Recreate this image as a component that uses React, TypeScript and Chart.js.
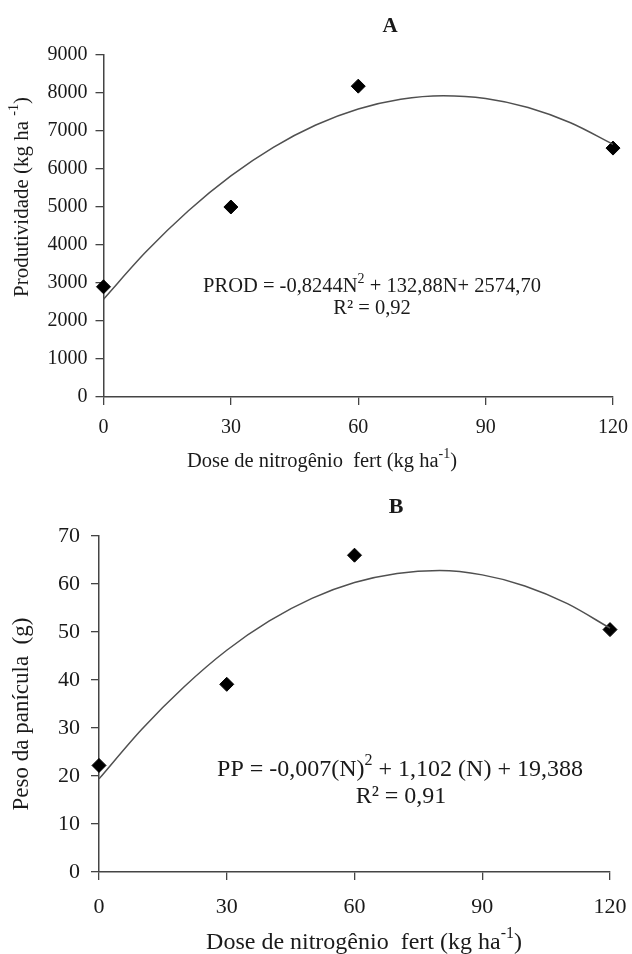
import React, { useEffect, useRef } from 'react';
import { Chart, registerables } from 'chart.js';
Chart.register(...registerables);

const doses = [0, 30, 60, 120];
const prodValues = [2900, 5000, 8180, 6550];
const pesoValues = [22.2, 39.1, 66, 50.5];
const trendDoses = [0, 10, 20, 30, 40, 50, 60, 70, 80, 90, 100, 110, 120];
const prodTrend = [2575, 3821, 4903, 5819, 6571, 7158, 7580, 7837, 7929, 7856, 7619, 7216, 6649];
const pesoTrend = [19.4, 29.7, 38.6, 46.2, 52.3, 57.0, 60.3, 62.2, 62.8, 61.9, 59.6, 55.9, 50.8];
const xTicks = [0, 30, 60, 90, 120];

const FONT = '"Liberation Serif", "Times New Roman", serif';
const INK = '#1a1a1a';
const AXIS = '#444';

type Seg = { t: string; sup?: boolean };
type TextItem = { segs: Seg[]; x: number; y: number; size: number; bold?: boolean; rotate?: boolean };

function drawRich(ctx: CanvasRenderingContext2D, item: TextItem) {
  const { segs, size, bold } = item;
  const w = bold ? 'bold ' : '';
  const supSize = Math.round(size * 0.68);
  let total = 0;
  const widths = segs.map((s) => {
    ctx.font = `${w}${s.sup ? supSize : size}px ${FONT}`;
    const m = ctx.measureText(s.t).width;
    total += m;
    return m;
  });
  ctx.save();
  ctx.translate(item.x, item.y);
  if (item.rotate) ctx.rotate(-Math.PI / 2);
  ctx.fillStyle = INK;
  ctx.textBaseline = 'middle';
  ctx.textAlign = 'left';
  let cx = -total / 2;
  segs.forEach((s, i) => {
    ctx.font = `${w}${s.sup ? supSize : size}px ${FONT}`;
    ctx.fillText(s.t, cx, s.sup ? -size * 0.38 : 0);
    cx += widths[i];
  });
  ctx.restore();
}

const annotPlugin = {
  id: 'annot',
  afterDraw(chart: any, _args: any, opts: any) {
    const ctx = chart.ctx as CanvasRenderingContext2D;
    (opts.items || []).forEach((it: TextItem) => drawRich(ctx, it));
  },
};

type PanelProps = {
  width: number;
  height: number;
  values: number[];
  trend: number[];
  yMax: number;
  yStep: number;
  yAxisWidth: number;
  padTop: number;
  padRight: number;
  xAxisHeight: number;
  tickSize: number;
  xPad: number;
  yPad: number;
  items: TextItem[];
};

function Panel(p: PanelProps) {
  const ref = useRef<HTMLCanvasElement | null>(null);
  useEffect(() => {
    if (!ref.current) return;
    const chart = new Chart(ref.current, {
      type: 'scatter',
      data: {
        datasets: [
          {
            type: 'line',
            data: trendDoses.map((x, i) => ({ x, y: p.trend[i] })),
            borderColor: '#505050',
            borderWidth: 1.5,
            pointRadius: 0,
            cubicInterpolationMode: 'monotone',
            fill: false,
            clip: false,
          } as any,
          {
            type: 'scatter',
            data: doses.map((x, i) => ({ x, y: p.values[i] })),
            pointStyle: 'rectRot',
            pointRadius: 7,
            backgroundColor: '#000',
            borderColor: '#000',
            borderWidth: 1,
            clip: false,
          } as any,
        ],
      },
      options: {
        responsive: false,
        animation: false,
        layout: { padding: { top: p.padTop, right: p.padRight, left: 0, bottom: 0 } },
        plugins: {
          legend: { display: false },
          tooltip: { enabled: false },
          annot: { items: p.items },
        } as any,
        scales: {
          x: {
            type: 'linear',
            min: 0,
            max: 120,
            afterBuildTicks: (s: any) => {
              s.ticks = xTicks.map((v) => ({ value: v }));
            },
            afterFit: (s: any) => {
              s.height = p.xAxisHeight;
              s.paddingLeft = 0;
              s.paddingRight = 0;
            },
            grid: { drawOnChartArea: false, drawTicks: true, tickLength: 8, color: AXIS, lineWidth: 1.3 },
            border: { display: true, color: AXIS, width: 1.5 },
            ticks: {
              color: INK,
              padding: p.xPad,
              font: { family: FONT, size: p.tickSize },
              maxRotation: 0,
              callback: (v: any) => String(v),
            },
          },
          y: {
            type: 'linear',
            min: 0,
            max: p.yMax,
            afterFit: (s: any) => {
              s.width = p.yAxisWidth;
              s.paddingTop = 0;
              s.paddingBottom = 0;
            },
            grid: { drawOnChartArea: false, drawTicks: true, tickLength: 8, color: AXIS, lineWidth: 1.3 },
            border: { display: true, color: AXIS, width: 1.5 },
            ticks: {
              color: INK,
              padding: p.yPad,
              stepSize: p.yStep,
              font: { family: FONT, size: p.tickSize },
              callback: (v: any) => String(v),
            },
          },
        },
      },
      plugins: [annotPlugin],
    } as any);
    return () => chart.destroy();
  }, []);
  return <canvas ref={ref} width={p.width} height={p.height} style={{ display: 'block', width: p.width, height: p.height }} />;
}

const xTitle: Seg[] = [{ t: 'Dose de nitrogênio  fert (kg ha' }, { t: '-1', sup: true }, { t: ')' }];

export default function App() {
  useEffect(() => {
    document.body.style.margin = '0';
    document.body.style.background = '#fff';
  }, []);
  return (
    <div style={{ width: 632, height: 954, background: '#fff' }}>
      <Panel
        width={632}
        height={478}
        values={prodValues}
        trend={prodTrend}
        yMax={9000}
        yStep={1000}
        yAxisWidth={103.5}
        padTop={55}
        padRight={19}
        xAxisHeight={81}
        tickSize={20}
        xPad={11}
        yPad={8}
        items={[
          { segs: [{ t: 'A' }], x: 390, y: 27, size: 21, bold: true },
          { segs: [{ t: 'Produtividade (kg ha ' }, { t: '-1', sup: true }, { t: ')' }], x: 22, y: 197, size: 21, rotate: true },
          { segs: xTitle, x: 322, y: 462, size: 20.5 },
          { segs: [{ t: 'PROD = -0,8244N' }, { t: '2', sup: true }, { t: ' + 132,88N+ 2574,70' }], x: 372, y: 287, size: 20.5 },
          { segs: [{ t: 'R² = 0,92' }], x: 372, y: 309, size: 20.5 },
        ]}
      />
      <Panel
        width={632}
        height={476}
        values={pesoValues}
        trend={pesoTrend}
        yMax={70}
        yStep={10}
        yAxisWidth={99}
        padTop={58}
        padRight={22}
        xAxisHeight={82}
        tickSize={22}
        xPad={14}
        yPad={11}
        items={[
          { segs: [{ t: 'B' }], x: 396, y: 29, size: 22, bold: true },
          { segs: [{ t: 'Peso da panícula  (g)' }], x: 22, y: 236, size: 23, rotate: true },
          { segs: xTitle, x: 364, y: 465, size: 24 },
          { segs: [{ t: 'PP = -0,007(N)' }, { t: '2', sup: true }, { t: ' + 1,102 (N) + 19,388' }], x: 400, y: 292, size: 24 },
          { segs: [{ t: 'R² = 0,91' }], x: 401, y: 319, size: 24 },
        ]}
      />
    </div>
  );
}
